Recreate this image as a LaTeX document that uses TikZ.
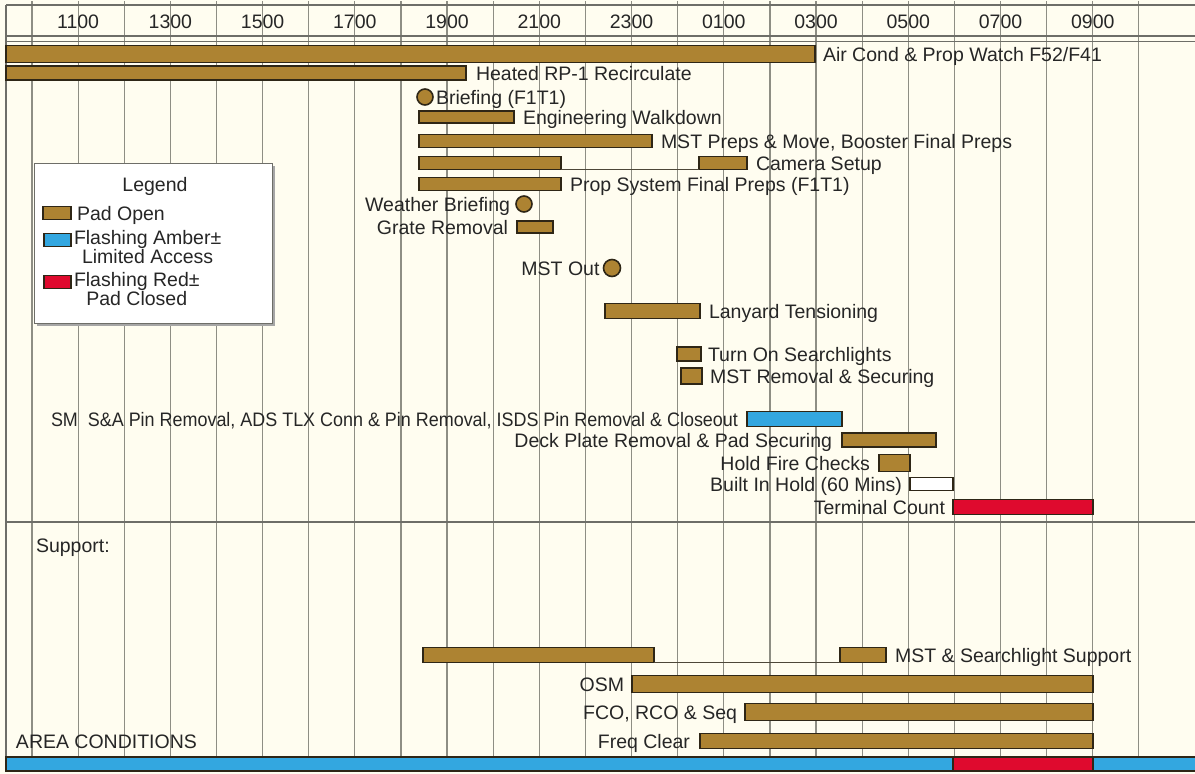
\documentclass[tikz,border=0pt]{standalone}
\usepackage{fontspec}
\setmainfont{Liberation Sans}
\definecolor{bgc}{HTML}{FFFDF0}
\definecolor{padbrown}{HTML}{AD8332}
\definecolor{padblue}{HTML}{33A7E0}
\definecolor{padred}{HTML}{DF0A2E}
\definecolor{edgec}{HTML}{2E2616}
\definecolor{gridc}{HTML}{8E8E84}
\definecolor{rulec}{HTML}{6E6E68}
\definecolor{txt}{HTML}{262626}
\tikzset{
  bar/.style={rectangle, draw=edgec, line width=1.4pt, fill=padbrown, inner sep=0pt, outer sep=0pt},
  ambar/.style={bar, fill=padblue},
  redbar/.style={bar, fill=padred},
  holdbar/.style={bar, fill=white},
  dot/.style={circle, draw=edgec, line width=1.6pt, fill=padbrown, minimum size=16pt, inner sep=0pt, outer sep=0pt},
  lbl/.style={inner sep=0pt, outer sep=0pt, text=txt, font=\fontsize{19.5}{19.5}\selectfont, text height=14pt, text depth=0pt},
  mlbl/.style={inner sep=0pt, outer sep=0pt, text=txt, font=\fontsize{19.5}{16}\selectfont, align=center},
  gridline/.style={draw=gridc, line width=1.2pt},
  rulel/.style={draw=rulec, line width=2pt},
  link/.style={draw=edgec!85, line width=1.3pt},
}
\newcommand\ganttbar[6]{\node[#1, anchor=west, minimum width={(#4-#3)*1pt}, minimum height={#6*1pt}] (#2) at (#3,#5) {};}
\begin{document}
\begin{tikzpicture}[x=1pt, y=-1pt]
\useasboundingbox (0,0) rectangle (1195,774);
\fill[bgc] (0,0) rectangle (1195,774);
% grid
\foreach \t in {0,...,24}{
  \pgfmathsetmacro{\gx}{32+46.12*\t}
  \pgfmathparse{mod(\t,2)==0 ? 5 : 38}
  \draw[gridline] (\gx,\pgfmathresult) -- (\gx,757);
}
% header and frame lines
\draw[rulel] (6,5) -- (1195,5);
\draw[rulel] (6,36) -- (1195,36);
\draw[draw=rulec, line width=1pt] (6,41) -- (1195,41);
\draw[rulel] (6,5) -- (6,772);
\draw[rulel] (6,522) -- (1195,522);
% header labels
\foreach \t/\lab in {1/1100,3/1300,5/1500,7/1700,9/1900,11/2100,13/2300,15/0100,17/0300,19/0500,21/0700,23/0900}{
  \node[lbl] (h\lab) at ({32+46.12*\t},21) {\lab};
}
% legend
\fill[gray!70] (37,166) rectangle (275,326);
\node[rectangle, draw=rulec, line width=1.4pt, fill=white, anchor=north west, minimum width=238pt, minimum height=160pt, inner sep=0pt] (legend) at (34,163) {};
\node[lbl] (legtitle) at (155,184) {Legend};
\ganttbar{bar}{swpad}{43}{71}{213}{13}
\node[lbl, anchor=west] (lpad) at ([xshift=6pt]swpad.east) {Pad Open};
\ganttbar{ambar}{swamb}{44}{71}{240}{13}
\node[mlbl, anchor=north west] (lamb) at (74,230) {Flashing Amber±\\Limited Access};
\ganttbar{redbar}{swred}{44}{71}{282}{13}
\node[mlbl, anchor=north west] (lred) at (74,272) {Flashing Red±\\Pad Closed};
% top rows
\ganttbar{bar}{b1}{6}{815}{54}{17}
\node[lbl, anchor=west] (t1) at ([xshift=8pt]b1.east) {Air Cond \& Prop Watch F52/F41};
\ganttbar{bar}{b2}{6}{466}{73}{14}
\node[lbl, anchor=west] (t2) at ([xshift=10pt]b2.east) {Heated RP-1 Recirculate};
\node[dot] (c1) at (425,97) {};
\node[lbl, anchor=west] (t3) at ([xshift=3pt]c1.east) {Briefing (F1T1)};
\ganttbar{bar}{b3}{419}{514}{117}{12}
\node[lbl, anchor=west] (t4) at ([xshift=9pt]b3.east) {Engineering Walkdown};
\ganttbar{bar}{b4}{419}{652}{141}{13}
\node[lbl, anchor=west] (t5) at ([xshift=9pt]b4.east) {MST Preps \& Move, Booster Final Preps};
\ganttbar{bar}{b5a}{419}{561}{163}{13}
\ganttbar{bar}{b5b}{699}{747}{163}{13}
\draw[link] (b5a.south east) -- (b5b.south west);
\node[lbl, anchor=west] (t6) at ([xshift=9pt]b5b.east) {Camera Setup};
\ganttbar{bar}{b6}{419}{561}{184}{13}
\node[lbl, anchor=west] (t7) at ([xshift=9pt]b6.east) {Prop System Final Preps (F1T1)};
\node[dot] (c2) at (524,204) {};
\node[lbl, anchor=east] (t8) at ([xshift=-6pt]c2.west) {Weather Briefing};
\ganttbar{bar}{b7}{517}{553}{227}{12}
\node[lbl, anchor=east] (t9) at ([xshift=-9pt]b7.west) {Grate Removal};
\node[dot, minimum size=17pt] (c3) at (612,268) {};
\node[lbl, anchor=east] (t10) at ([xshift=-4pt]c3.west) {MST Out};
\ganttbar{bar}{b8}{605}{700}{311}{15}
\node[lbl, anchor=west] (t11) at ([xshift=9pt]b8.east) {Lanyard Tensioning};
\ganttbar{bar}{b9}{677}{701}{354}{14}
\node[lbl, anchor=west] (t12) at ([xshift=7pt]b9.east) {Turn On Searchlights};
\ganttbar{bar}{b10}{681}{702}{376}{16}
\node[lbl, anchor=west] (t13) at ([xshift=8pt]b10.east) {MST Removal \& Securing};
\ganttbar{ambar}{b11}{747}{842}{419}{15}
\node[lbl, anchor=east] (t14) at ([xshift=-9pt]b11.west) {\scalebox{0.92}[1]{SM\ \ S\&A Pin Removal, ADS TLX Conn \& Pin Removal, ISDS Pin Removal \& Closeout}};
\ganttbar{bar}{b12}{842}{936}{440}{14}
\node[lbl, anchor=east] (t15) at ([xshift=-10pt]b12.west) {Deck Plate Removal \& Pad Securing};
\ganttbar{bar}{b13}{879}{910}{463}{17}
\node[lbl, anchor=east] (t16) at ([xshift=-9pt]b13.west) {Hold Fire Checks};
\ganttbar{holdbar}{b14}{910}{953}{484}{13}
\node[lbl, anchor=east] (t17) at ([xshift=-8pt]b14.west) {Built In Hold (60 Mins)};
\ganttbar{redbar}{b15}{953}{1093}{507}{15}
\node[lbl, anchor=east] (t18) at ([xshift=-8pt]b15.west) {Terminal Count};
% support
\node[lbl, anchor=west] (support) at (36,545) {Support:};
\ganttbar{bar}{b16a}{423}{654}{655}{15}
\ganttbar{bar}{b16b}{840}{886}{655}{15}
\draw[link] (b16a.south east) -- (b16b.south west);
\node[lbl, anchor=west] (t19) at ([xshift=9pt]b16b.east) {MST \& Searchlight Support};
\ganttbar{bar}{b17}{632}{1093}{684}{17}
\node[lbl, anchor=east] (t20) at ([xshift=-8pt]b17.west) {OSM};
\ganttbar{bar}{b18}{745}{1093}{712}{17}
\node[lbl, anchor=east] (t21) at ([xshift=-8pt]b18.west) {FCO, RCO \& Seq};
\ganttbar{bar}{b19}{700}{1093}{741}{15}
\node[lbl, anchor=east] (t22) at ([xshift=-10pt]b19.west) {Freq Clear};
\node[lbl, anchor=west] (area) at (16,741) {AREA CONDITIONS};
% area condition bar
\ganttbar{ambar}{abar}{6}{1196}{764}{14}
\ganttbar{redbar}{rbar}{953}{1093}{764}{14}
\end{tikzpicture}
\end{document}
